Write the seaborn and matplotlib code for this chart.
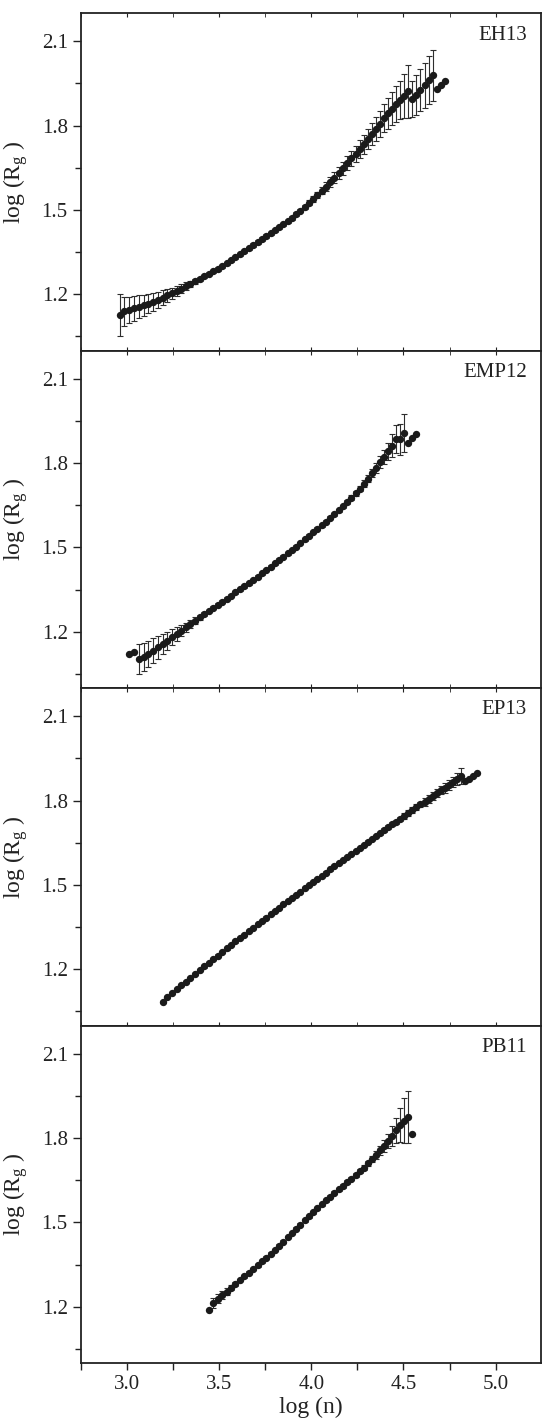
import pandas as pd
import matplotlib
matplotlib.use("Agg")
import matplotlib.pyplot as plt
import seaborn as sns
from matplotlib.ticker import MultipleLocator

# Seaborn base style, then serif fonts (set after seaborn so they stick)
sns.set_style("ticks")
plt.rcParams['font.family'] = ['Liberation Serif', 'DejaVu Serif']
plt.rcParams['mathtext.fontset'] = 'custom'
plt.rcParams['mathtext.rm'] = 'Liberation Serif'
plt.rcParams['mathtext.it'] = 'Liberation Serif:italic'

# Shared grid of log(n) values (points of every panel sit on it)
log_n = [2.960, 2.986, 3.012, 3.038, 3.064, 3.090, 3.116, 3.142, 3.168, 3.194,
         3.219, 3.244, 3.269, 3.294, 3.319, 3.344, 3.369, 3.394, 3.419, 3.444,
         3.468, 3.492, 3.516, 3.540, 3.564, 3.588, 3.612, 3.636, 3.660, 3.684,
         3.708, 3.732, 3.756, 3.780, 3.803, 3.826, 3.849, 3.872, 3.895, 3.918,
         3.941, 3.964, 3.987, 4.010, 4.033, 4.056, 4.079, 4.102, 4.125, 4.148,
         4.171, 4.194, 4.217, 4.240, 4.262, 4.284, 4.306, 4.328, 4.350, 4.372,
         4.394, 4.416, 4.438, 4.460, 4.482, 4.504, 4.526, 4.548, 4.570, 4.592,
         4.614, 4.636, 4.658, 4.680, 4.702, 4.724, 4.746, 4.768, 4.790, 4.812,
         4.834, 4.856, 4.878, 4.900]

# EH13 (starts at log_n[0])
eh13_rg = [1.127, 1.139, 1.145, 1.150, 1.155, 1.161, 1.167, 1.174, 1.181, 1.188,
           1.196, 1.204, 1.212, 1.220, 1.229, 1.237, 1.246, 1.255, 1.264, 1.273,
           1.282, 1.290, 1.300, 1.310, 1.321, 1.332, 1.342, 1.353, 1.364, 1.375,
           1.386, 1.397, 1.407, 1.417, 1.427, 1.438, 1.449, 1.460, 1.472, 1.485,
           1.498, 1.511, 1.525, 1.539, 1.553, 1.568, 1.583, 1.599, 1.615, 1.632,
           1.649, 1.666, 1.683, 1.700, 1.716, 1.734, 1.752, 1.770, 1.788, 1.807,
           1.826, 1.843, 1.860, 1.876, 1.891, 1.906, 1.922, 1.894, 1.909, 1.926,
           1.944, 1.962, 1.979, 1.929, 1.943, 1.957]
eh13_err = [0.075, 0.050, 0.047, 0.044, 0.041, 0.038, 0.035, 0.032, 0.029, 0.026,
            0.023, 0.020, 0.018, 0.016, 0.014, 0.012, 0.010, 0.008, 0.006, 0.006,
            0.006, 0.006, 0.006, 0.006, 0.006, 0.006, 0.006, 0.006, 0.006, 0.006,
            0.006, 0.006, 0.006, 0.006, 0.006, 0.006, 0.006, 0.006, 0.006, 0.006,
            0.007, 0.008, 0.009, 0.010, 0.011, 0.013, 0.015, 0.017, 0.019, 0.021,
            0.023, 0.025, 0.027, 0.029, 0.031, 0.034, 0.037, 0.040, 0.043, 0.046,
            0.050, 0.054, 0.058, 0.063, 0.068, 0.078, 0.095, 0.065, 0.070, 0.075,
            0.080, 0.085, 0.090, 0.0, 0.0, 0.0]

# EMP12 (starts at log_n[2])
emp12_rg = [1.120, 1.128, 1.103, 1.110, 1.122, 1.133, 1.145, 1.157, 1.169, 1.181,
            1.193, 1.204, 1.216, 1.228, 1.240, 1.251, 1.263, 1.274, 1.285, 1.296,
            1.307, 1.318, 1.329, 1.340, 1.351, 1.362, 1.373, 1.384, 1.396, 1.408,
            1.420, 1.432, 1.444, 1.456, 1.467, 1.479, 1.491, 1.503, 1.516, 1.529,
            1.542, 1.555, 1.567, 1.579, 1.592, 1.605, 1.618, 1.632, 1.646, 1.661,
            1.677, 1.693, 1.709, 1.727, 1.745, 1.764, 1.783, 1.803, 1.822, 1.842,
            1.862, 1.884, 1.884, 1.907, 1.873, 1.890, 1.904]
emp12_err = [0.0, 0.0, 0.052, 0.050, 0.047, 0.044, 0.040, 0.036, 0.032, 0.028,
             0.024, 0.020, 0.017, 0.014, 0.011, 0.009, 0.007, 0.005, 0.005, 0.005,
             0.005, 0.005, 0.005, 0.005, 0.005, 0.005, 0.005, 0.005, 0.005, 0.005,
             0.005, 0.005, 0.005, 0.005, 0.005, 0.005, 0.005, 0.005, 0.005, 0.005,
             0.005, 0.005, 0.005, 0.005, 0.005, 0.005, 0.005, 0.005, 0.006, 0.007,
             0.008, 0.009, 0.010, 0.011, 0.013, 0.015, 0.018, 0.021, 0.025, 0.030,
             0.040, 0.050, 0.055, 0.068, 0.0, 0.0, 0.0]

# EP13 (starts at log_n[9])
ep13_rg = [1.084, 1.102, 1.116, 1.129, 1.143, 1.156, 1.170, 1.183, 1.197, 1.210,
           1.223, 1.236, 1.249, 1.261, 1.274, 1.286, 1.299, 1.311, 1.323, 1.336,
           1.348, 1.360, 1.372, 1.384, 1.396, 1.408, 1.419, 1.431, 1.442, 1.454,
           1.465, 1.476, 1.488, 1.499, 1.510, 1.521, 1.533, 1.544, 1.555, 1.566,
           1.577, 1.588, 1.599, 1.610, 1.621, 1.631, 1.642, 1.653, 1.663, 1.674,
           1.684, 1.694, 1.705, 1.715, 1.725, 1.735, 1.746, 1.756, 1.766, 1.776,
           1.786, 1.796, 1.806, 1.816, 1.826, 1.836, 1.846, 1.856, 1.866, 1.876,
           1.886, 1.868, 1.878, 1.888, 1.897]
ep13_err = [0.004, 0.004, 0.004, 0.004, 0.004, 0.004, 0.004, 0.004, 0.004, 0.004,
            0.004, 0.004, 0.004, 0.004, 0.004, 0.004, 0.004, 0.004, 0.004, 0.004,
            0.004, 0.004, 0.004, 0.004, 0.004, 0.004, 0.004, 0.004, 0.004, 0.004,
            0.004, 0.004, 0.004, 0.004, 0.004, 0.004, 0.004, 0.004, 0.004, 0.004,
            0.004, 0.004, 0.004, 0.004, 0.004, 0.004, 0.005, 0.005, 0.005, 0.005,
            0.005, 0.007, 0.007, 0.007, 0.007, 0.007, 0.010, 0.010, 0.010, 0.010,
            0.010, 0.014, 0.014, 0.014, 0.014, 0.014, 0.018, 0.018, 0.018, 0.022,
            0.028, 0.0, 0.0, 0.0, 0.0]

# PB11 (starts at log_n[19])
pb11_rg = [1.187, 1.214, 1.228, 1.241, 1.254, 1.268, 1.281, 1.295, 1.308, 1.321,
           1.334, 1.347, 1.361, 1.374, 1.388, 1.402, 1.417, 1.432, 1.448, 1.462,
           1.477, 1.492, 1.507, 1.522, 1.536, 1.550, 1.564, 1.578, 1.592, 1.605,
           1.618, 1.630, 1.643, 1.656, 1.669, 1.682, 1.695, 1.710, 1.725, 1.740,
           1.756, 1.772, 1.789, 1.808, 1.828, 1.846, 1.862, 1.874, 1.816]
pb11_err = [0.0, 0.018, 0.016, 0.014, 0.012, 0.010, 0.008, 0.005, 0.005, 0.005,
            0.005, 0.005, 0.005, 0.005, 0.005, 0.005, 0.005, 0.005, 0.005, 0.005,
            0.005, 0.005, 0.005, 0.005, 0.005, 0.005, 0.005, 0.005, 0.005, 0.005,
            0.005, 0.007, 0.007, 0.007, 0.007, 0.007, 0.010, 0.010, 0.010, 0.013,
            0.016, 0.020, 0.025, 0.035, 0.045, 0.060, 0.080, 0.092, 0.0]

panels = [("EH13", 0, eh13_rg, eh13_err),
          ("EMP12", 2, emp12_rg, emp12_err),
          ("EP13", 9, ep13_rg, ep13_err),
          ("PB11", 19, pb11_rg, pb11_err)]

fig = plt.figure(figsize=(5.43, 14.21), dpi=100)
left, width, height, bottom0 = 0.149, 0.847, 0.2375, 0.0408

axes = []
for i, (name, start, rg, err) in enumerate(panels):
    ax = fig.add_axes([left, bottom0 + (3 - i) * height, width, height],
                      sharex=axes[0] if axes else None)
    df = pd.DataFrame({'log_n': log_n[start:start + len(rg)],
                       'log_rg': rg, 'err': err})

    # Error bars first, dots on top
    bars = df[df['err'] > 0]
    ax.errorbar(bars['log_n'], bars['log_rg'], yerr=bars['err'], fmt='none',
                ecolor='#2e2e2e', elinewidth=0.8, capsize=2.3, capthick=0.8,
                zorder=2)
    sns.scatterplot(data=df, x='log_n', y='log_rg', ax=ax, color='#1a1a1a',
                    s=28, edgecolor='#1a1a1a', linewidth=0, zorder=3)

    ax.set_xlim(2.75, 5.245)
    ax.set_ylim(1.0, 2.2)
    ax.xaxis.set_major_locator(MultipleLocator(0.5))
    ax.xaxis.set_minor_locator(MultipleLocator(0.25))
    ax.yaxis.set_major_locator(MultipleLocator(0.3))
    ax.yaxis.set_minor_locator(MultipleLocator(0.15))

    ax.tick_params(axis='y', which='major', direction='out', length=6,
                   width=1, labelsize=15, colors='#222222')
    ax.tick_params(axis='y', which='minor', direction='out', length=4, width=1,
                   colors='#222222')

    if i < 3:
        ax.tick_params(axis='x', which='both', direction='in', length=3,
                       top=True, labelbottom=False, colors='#222222')
    else:
        ax.tick_params(axis='x', which='major', direction='out', length=5,
                       width=1, labelsize=15, colors='#222222')
        ax.tick_params(axis='x', which='minor', direction='out', length=5,
                       width=1, colors='#222222')
        ax.set_xlabel("log (n)", fontsize=17, color='#222222', labelpad=2)

    for s in ax.spines.values():
        s.set_linewidth(1.3)
        s.set_color('#222222')

    ax.set_ylabel("log (R$_{\\rm g}$ )", fontsize=17, color='#222222',
                  labelpad=8)
    if i < 3:
        ax.set_xlabel("")
    ax.text(0.97, 0.935, name, transform=ax.transAxes, ha='right',
            va='center', fontsize=15, color='#222222')
    axes.append(ax)

fig.savefig('out.png', dpi=100)
